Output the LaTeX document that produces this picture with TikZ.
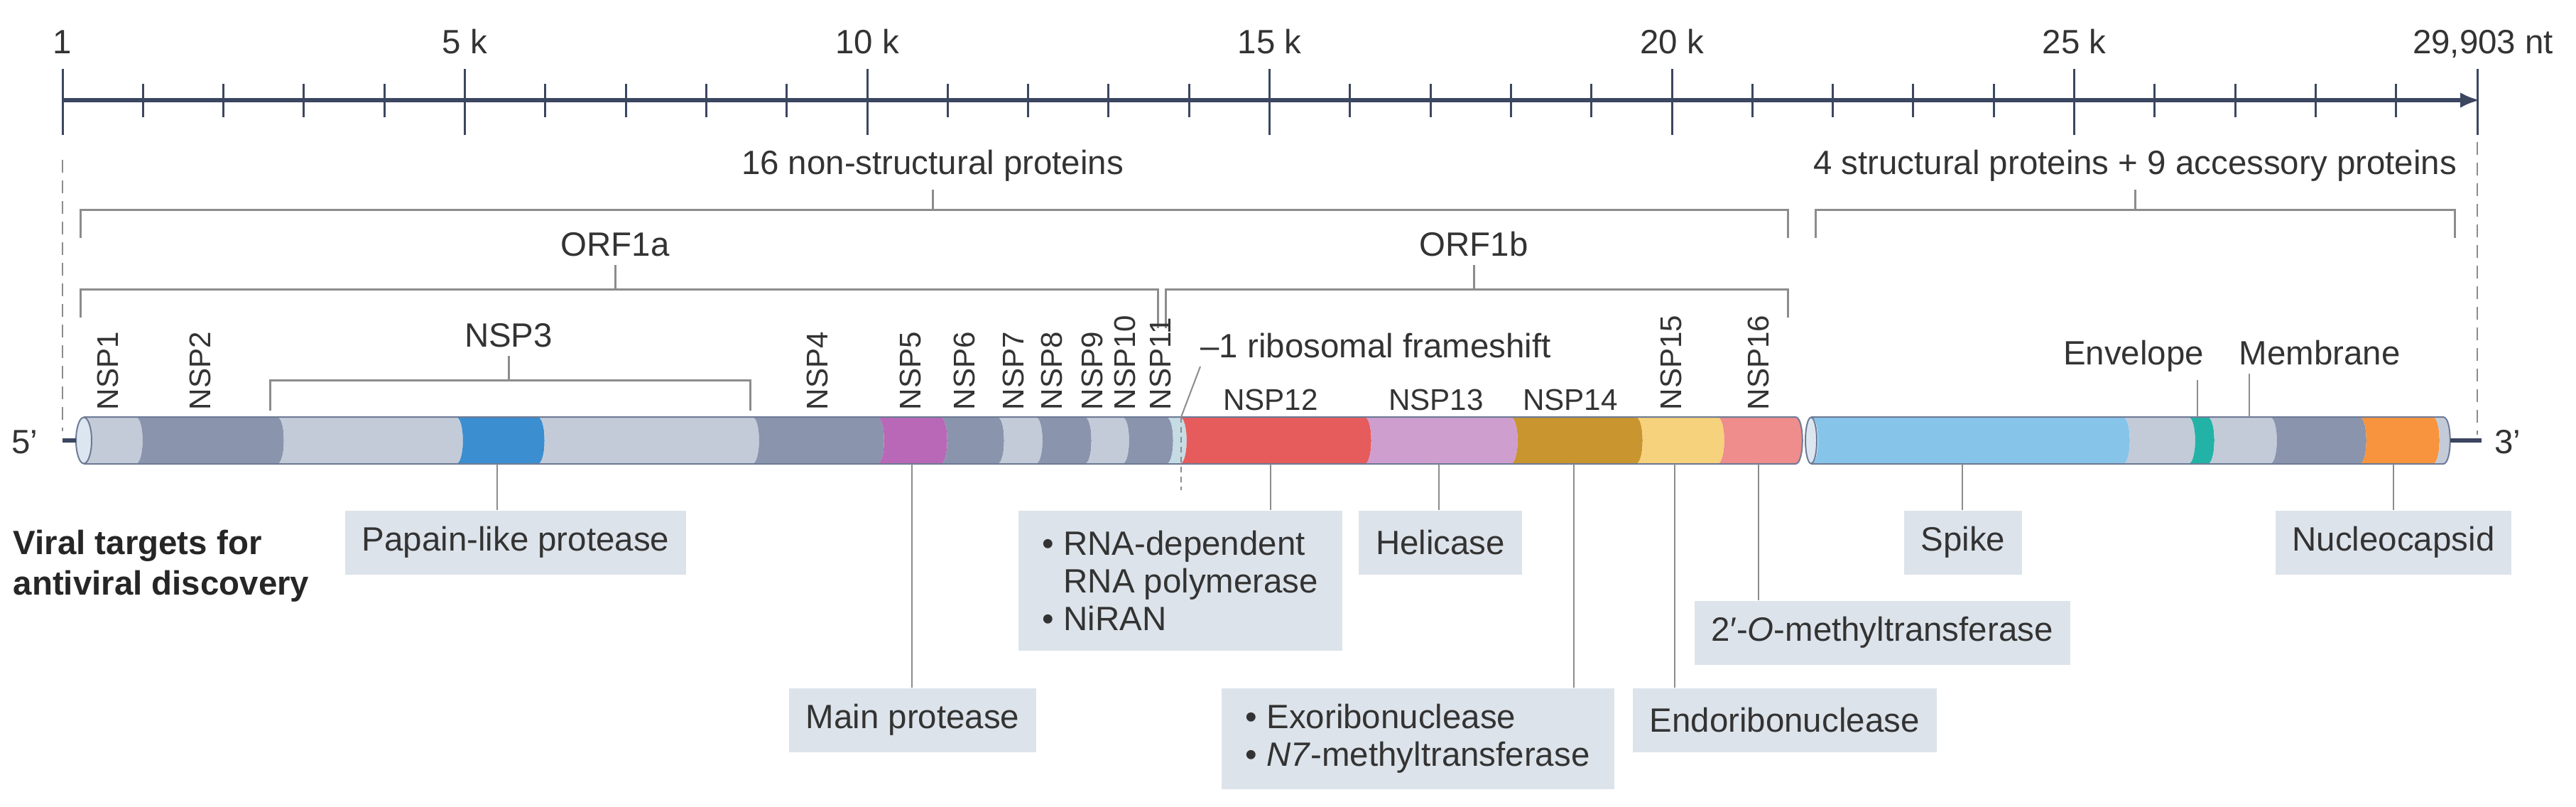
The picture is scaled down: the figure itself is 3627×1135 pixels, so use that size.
\documentclass[tikz,border=0pt]{standalone}
\usepackage{fontspec}
\setmainfont{Liberation Sans}
\usetikzlibrary{arrows.meta}
\definecolor{txt}{HTML}{333333}
\definecolor{axisc}{HTML}{3B4660}
\definecolor{linegray}{HTML}{8C8C8C}
\definecolor{outl}{HTML}{6E7B95}
\definecolor{segl}{HTML}{C3CBD8}
\definecolor{segd}{HTML}{8A94AC}
\definecolor{plblue}{HTML}{3B8ED0}
\definecolor{nspfive}{HTML}{B868B6}
\definecolor{nspeleven}{HTML}{C5DCE5}
\definecolor{nsptwelve}{HTML}{E65C5C}
\definecolor{nspthirteen}{HTML}{CE9ECF}
\definecolor{nspfourteen}{HTML}{C8952F}
\definecolor{nspfifteen}{HTML}{F5D27B}
\definecolor{nspsixteen}{HTML}{EF8C8C}
\definecolor{spikec}{HTML}{87C4EA}
\definecolor{envc}{HTML}{22B3A6}
\definecolor{nucc}{HTML}{F7943D}
\definecolor{facec}{HTML}{DCE6F0}
\definecolor{boxc}{HTML}{DDE3EA}

\begin{document}
\begin{tikzpicture}[x=0.1mm,y=-0.1mm,
	every node/.style={text=txt,font=\fontsize{13.5}{15}\selectfont},
	axisline/.style={draw=axisc,line width=0.6mm},
	tickline/.style={draw=axisc,line width=0.3mm},
	brk/.style={draw=linegray,line width=0.3mm},
	leader/.style={draw=linegray,line width=0.2mm},
	guide/.style={draw=linegray,line width=0.25mm,dash pattern=on 1.8mm off 1.1mm},
	nsplab/.style={font=\fontsize{12}{12}\selectfont,inner sep=0pt},
	target/.style={fill=boxc,inner xsep=2.4mm,inner ysep=0pt,minimum height=9mm},
	targetlist/.style={target,align=left,inner xsep=3.4mm},
	]
	\useasboundingbox (0,0) rectangle (3627,1135);

	% nucleotide scale
	\draw[axisline,-{Latex[length=2.8mm,width=2.2mm]}] (88,141) -- (3492,141);
	\foreach \k in {1,...,29}
		\draw[tickline] (88+113.3*\k,118) -- (88+113.3*\k,165);
	\foreach \k in {0,5,...,25}
		\draw[tickline] (88+113.3*\k,97) -- (88+113.3*\k,190);
	\draw[tickline] (3488,97) -- (3488,190);
	\foreach \k/\t in {0/1,5/5 k,10/10 k,15/15 k,20/20 k,25/25 k}
		\node[anchor=base] (tick\k) at (88+113.3*\k,75) {\t};
	\node[anchor=base] (tickend) at (3496,75) {29,903 nt};
	\draw[guide] (88,225) -- (88,607);
	\draw[guide] (3488,200) -- (3488,612);

	% brackets
	\node[anchor=base] (nonstr) at (1313,245) {16 non-structural proteins};
	\node[anchor=base] (str) at (3006,245) {4 structural proteins + 9 accessory proteins};
	\node[anchor=base] (orfa) at (866,360) {ORF1a};
	\node[anchor=base] (orfb) at (2075,360) {ORF1b};
	\node[anchor=base] (nspthree) at (716,488) {NSP3};
	\draw[brk] (113,335) -- (113,295) -- (2517,295) -- (2517,335);
	\draw[brk] (2556,335) -- (2556,295) -- (3456,295) -- (3456,335);
	\draw[brk] (113,447) -- (113,407) -- (1630,407) -- (1630,462);
	\draw[brk] (1641,462) -- (1641,407) -- (2517,407) -- (2517,447);
	\draw[brk] (380,578) -- (380,535) -- (1056,535) -- (1056,578);
	\coordinate (bnonstr) at (1313,295);
	\coordinate (bstr) at (3006,295);
	\coordinate (borfa) at (866,407);
	\coordinate (borfb) at (2075,407);
	\coordinate (bnspthree) at (716,535);
	\draw[brk] (bnonstr) -- (nonstr.south);
	\draw[brk] (bstr) -- (str.south);
	\draw[brk] (borfa) -- (orfa.south);
	\draw[brk] (borfb) -- (orfb.south);
	\draw[brk] (bnspthree) -- (nspthree.south);

	% genome
	\foreach \a/\b/\c in {118/191/segl,191/390/segd,390/642/segl,642/757/plblue,757/1059/segl,
		1059/1235/segd,1235/1324/nspfive,1324/1404/segd,1404/1458/segl,1458/1527/segd,
		1527/1580/segl,1580/1642/segd,1642/1661/nspeleven,1661/1921/nsptwelve,
		1921/2127/nspthirteen,2127/2303/nspfourteen,2303/2418/nspfifteen,2418/2528/nspsixteen,
		2550/2989/spikec,2989/3081/segl,3081/3108/envc,3108/3196/segl,3196/3322/segd,
		3322/3425/nucc,3425/3440/segl}
		\fill[\c] (\a,587) -- (\b,587) .. controls (\b+13,587) and (\b+13,653) .. (\b,653)
			-- (\a,653) .. controls (\a+13,653) and (\a+13,587) .. (\a,587) -- cycle;
	\draw[outl,line width=0.2mm] (118,587) -- (2528,587) .. controls (2541,587) and (2541,653) .. (2528,653) -- (118,653);
	\draw[outl,line width=0.2mm] (2550,587) -- (3440,587) .. controls (3453,587) and (3453,653) .. (3440,653) -- (2550,653);
	\draw[outl,fill=facec,line width=0.2mm] (118,620) ellipse [x radius=1.1mm,y radius=3.25mm];
	\draw[outl,fill=facec,line width=0.2mm] (2550,620) ellipse [x radius=0.8mm,y radius=3.25mm];
	\node (five) at (35,622) {5’};
	\node (three) at (3531,622) {3’};
	\coordinate (tailfive) at (88,620);
	\coordinate (tailthree) at (3494,620);
	\draw[axisline] (tailfive) -- (107,620);
	\draw[axisline] (3450,620) -- (tailthree);

	% protein labels
	\foreach \x/\t in {152/NSP1,282/NSP2,1151/NSP4,1282/NSP5,1358/NSP6,1427/NSP7,1481/NSP8,
		1538/NSP9,1584/NSP10,1634/NSP11,2353/NSP15,2476/NSP16}
		\node[nsplab,rotate=90,anchor=west] (\t) at (\x,578) {\t};
	\node[nsplab,anchor=base] (NSP12) at (1789,577) {NSP12};
	\node[nsplab,anchor=base] (NSP13) at (2022,577) {NSP13};
	\node[nsplab,anchor=base] (NSP14) at (2211,577) {NSP14};
	\node[anchor=base west] (fs) at (1678,503) {--1 ribosomal frameshift};
	\coordinate (fstip) at (1663,587);
	\coordinate (fsend) at (1663,690);
	\draw[leader] ([xshift=1.2mm]fs.south west) -- (fstip);
	\draw[leader,dash pattern=on 0.8mm off 0.6mm] (fstip) -- (fsend);
	\node[anchor=base] (envl) at (3004,513) {Envelope};
	\node[anchor=base] (meml) at (3266,513) {Membrane};
	\coordinate (env) at (3094,587);
	\coordinate (mem) at (3167,587);
	\draw[leader] (env) -- (env |- envl.south);
	\draw[leader] (mem) -- (mem |- meml.south);

	% targets
	\node[anchor=north west,inner sep=0pt,align=left,font=\bfseries\fontsize{13.5}{16.4}\selectfont,text=black!85]
		(viral) at (18,745) {Viral targets for\\antiviral discovery};
	\node[target,anchor=north] (plbox) at (726,718) {Papain-like protease};
	\node[target,anchor=north] (mbox) at (1285,968) {Main protease};
	\node[targetlist,anchor=north west,minimum height=19.7mm] (rbox) at (1433,718)
		{\textbullet\ RNA-dependent\\\phantom{\textbullet\ }RNA polymerase\\\textbullet\ NiRAN};
	\node[target,anchor=north] (hbox) at (2028,718) {Helicase};
	\node[targetlist,anchor=north west,minimum height=14.2mm] (xbox) at (1719,968)
		{\textbullet\ Exoribonuclease\\\textbullet\ \textit{N7}-methyltransferase};
	\node[target,anchor=north west] (ebox) at (2298,968) {Endoribonuclease};
	\node[target,anchor=north west] (obox) at (2385,845) {2′-\textit{O}-methyltransferase};
	\node[target,anchor=north] (sbox) at (2764,718) {Spike};
	\node[target,anchor=north] (nbox) at (3370,718) {Nucleocapsid};
	\coordinate (plpro) at (700,653);
	\coordinate (mpro) at (1284,653);
	\coordinate (rdrp) at (1789,653);
	\coordinate (hel) at (2026,653);
	\coordinate (exo) at (2216,653);
	\coordinate (endo) at (2358,653);
	\coordinate (mt) at (2476,653);
	\coordinate (spike) at (2763,653);
	\coordinate (nuc) at (3370,653);
	\draw[leader] (plpro) -- (plpro |- plbox.north);
	\draw[leader] (mpro) -- (mpro |- mbox.north);
	\draw[leader] (rdrp) -- (rdrp |- rbox.north);
	\draw[leader] (hel) -- (hel |- hbox.north);
	\draw[leader] (exo) -- (exo |- xbox.north);
	\draw[leader] (endo) -- (endo |- ebox.north);
	\draw[leader] (mt) -- (mt |- obox.north);
	\draw[leader] (spike) -- (spike |- sbox.north);
	\draw[leader] (nuc) -- (nuc |- nbox.north);
\end{tikzpicture}
\end{document}
